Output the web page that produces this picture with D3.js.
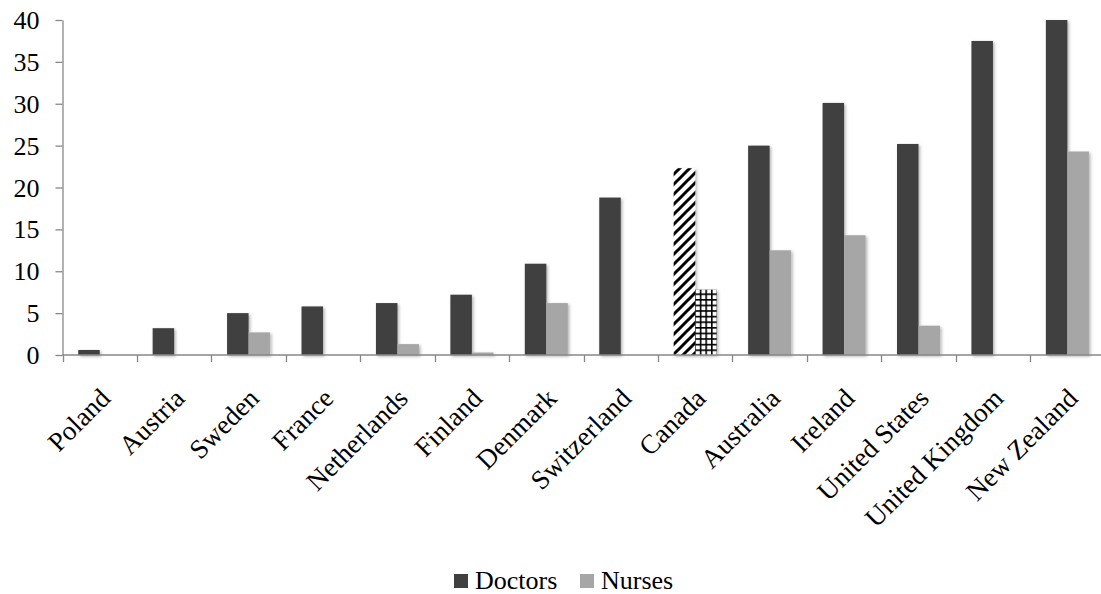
<!DOCTYPE html>
<html>
<head>
<meta charset="utf-8">
<script src="https://cdn.jsdelivr.net/npm/d3@7"></script>
<style>
  html, body { margin: 0; padding: 0; background: #ffffff; }
  svg { display: block; }
</style>
</head>
<body>
<svg id="chart" width="1101" height="594"></svg>
<script>
// Countries along the category axis
const countries = ["Poland", "Austria", "Sweden", "France", "Netherlands", "Finland",
  "Denmark", "Switzerland", "Canada", "Australia", "Ireland", "United States",
  "United Kingdom", "New Zealand"];
// Series values
const doctors = [0.6, 3.2, 5.0, 5.8, 6.2, 7.2, 10.9, 18.8, 22.3, 25.0, 30.1, 25.2, 37.5, 40.0];
const nurses  = [0.0, 0.0, 2.7, 0.0, 1.3, 0.3, 6.2, 0.0, 7.8, 12.5, 14.3, 3.5, 0.0, 24.3];
const seriesNames = ["Doctors", "Nurses"];
const yTicks = [0, 5, 10, 15, 20, 25, 30, 35, 40];
// Category drawn with pattern fills instead of solid colours
const highlighted = "Canada";

const FONT = "'Liberation Serif', 'Times New Roman', serif";
const svg = d3.select("#chart");
const colors = { Doctors: "#404040", Nurses: "#a6a6a6" };

const x = d3.scaleBand().domain(countries).range([62.5, 1104.6]).padding(0);
const xSub = d3.scaleBand().domain(seriesNames).range([0, x.bandwidth()]).paddingInner(0).paddingOuter(0.73);
const y = d3.scaleLinear().domain([0, 40]).range([355, 20]);

const defs = svg.append("defs");
// soft shadow under bars
const f = defs.append("filter").attr("id", "shadow")
  .attr("x", "-30%").attr("y", "-10%").attr("width", "160%").attr("height", "120%");
f.append("feDropShadow").attr("dx", 1.5).attr("dy", 1.5).attr("stdDeviation", 1.4)
  .attr("flood-color", "#000").attr("flood-opacity", 0.3);

// wide upward diagonal stripes
const stripe = defs.append("pattern").attr("id", "stripes")
  .attr("patternUnits", "userSpaceOnUse").attr("width", 10).attr("height", 10);
stripe.append("rect").attr("width", 10).attr("height", 10).attr("fill", "#fff");
stripe.append("path").attr("d", "M-2,12 L12,-2 M-7,7 L7,-7 M3,17 L17,3")
  .attr("stroke", "#000").attr("stroke-width", 3.0);

// small grid
const cell = 5.6;
const grid = defs.append("pattern").attr("id", "grid")
  .attr("patternUnits", "userSpaceOnUse").attr("width", cell).attr("height", cell)
  .attr("x", 697).attr("y", 355);
grid.append("rect").attr("width", cell).attr("height", cell).attr("fill", "#fff");
grid.append("path").attr("d", `M0,0.8 H${cell} M0.8,0 V${cell}`)
  .attr("stroke", "#000").attr("stroke-width", 1.6);

const rows = countries.map((c, i) => ({ country: c, Doctors: doctors[i], Nurses: nurses[i] }));

function fillFor(d, s) {
  if (d.country === highlighted) return s === "Doctors" ? "url(#stripes)" : "url(#grid)";
  return colors[s];
}

// bars
const groups = svg.append("g").attr("filter", "url(#shadow)")
  .selectAll("g").data(rows).join("g")
  .attr("transform", d => `translate(${x(d.country)},0)`);
groups.selectAll("rect")
  .data(d => seriesNames.map(s => ({ s, v: d[s], d })).filter(e => e.v > 0))
  .join("rect")
  .attr("x", e => xSub(e.s))
  .attr("width", xSub.bandwidth())
  .attr("y", e => y(e.v))
  .attr("height", e => y(0) - y(e.v))
  .attr("fill", e => fillFor(e.d, e.s));

const axisColor = "#878787";

// value axis
const yAxis = svg.append("g").attr("transform", "translate(62.5,0)")
  .call(d3.axisLeft(y).tickValues(yTicks).tickSize(7).tickSizeOuter(0).tickPadding(16));
yAxis.attr("font-family", null).attr("font-size", null);
yAxis.select(".domain").attr("stroke", axisColor).attr("stroke-width", 1.3);
yAxis.selectAll(".tick line").attr("stroke", axisColor).attr("stroke-width", 1.3);
yAxis.selectAll(".tick text")
  .style("font-family", FONT).style("font-size", "26px")
  .attr("fill", "#000").attr("dy", "0.33em");

// category axis line and boundary ticks
const xAxis = svg.append("g");
xAxis.append("line").attr("x1", 62.5).attr("x2", 1104.6).attr("y1", 355).attr("y2", 355)
  .attr("stroke", axisColor).attr("stroke-width", 1.3);
const bounds = countries.map(c => x(c));
xAxis.selectAll("line.tk").data(bounds).join("line").attr("class", "tk")
  .attr("x1", d => Math.round(d) + 0.5).attr("x2", d => Math.round(d) + 0.5)
  .attr("y1", 355).attr("y2", 362)
  .attr("stroke", axisColor).attr("stroke-width", 1.3);

// rotated category labels
xAxis.selectAll("text.lbl").data(countries).join("text").attr("class", "lbl")
  .attr("transform", c => `translate(${x(c) + x.bandwidth() / 2 + 12},400) rotate(-45)`)
  .attr("text-anchor", "end")
  .style("font-family", FONT).style("font-size", "27px")
  .attr("fill", "#000")
  .text(c => c);

// legend
const legend = svg.append("g");
const legendPos = { Doctors: 454, Nurses: 580 };
seriesNames.forEach(s => {
  legend.append("rect").attr("x", legendPos[s]).attr("y", 574).attr("width", 14).attr("height", 14)
    .attr("fill", colors[s]);
  legend.append("text").attr("x", legendPos[s] + 21).attr("y", 589)
    .style("font-family", FONT).style("font-size", "26px")
    .attr("fill", "#000").text(s);
});
</script>
</body>
</html>
